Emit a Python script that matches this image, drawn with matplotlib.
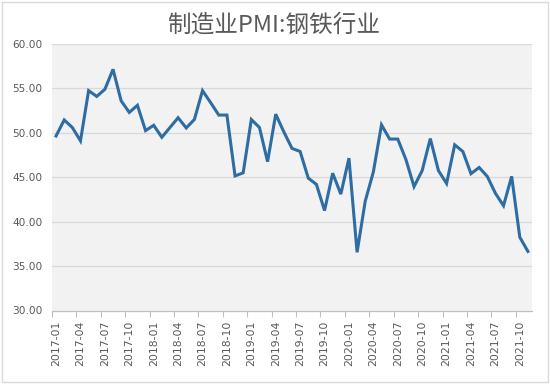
import matplotlib
matplotlib.use("Agg")
import matplotlib.pyplot as plt
from matplotlib.patches import Rectangle
from matplotlib.ticker import FixedLocator

title = "制造业PMI:钢铁行业"
months = [f"{y}-{m:02d}" for y in range(2017, 2022) for m in range(1, 13)][:59]
values = [49.65, 51.45, 50.6, 49.1, 54.75, 54.1, 54.9, 57.15, 53.6, 52.3,
          53.1, 50.25, 50.85, 49.5, 50.6, 51.7, 50.55, 51.5, 54.75, 53.4,
          52.0, 52.0, 45.15, 45.5, 51.5, 50.6, 46.75, 52.1, 50.1, 48.25,
          47.9, 44.9, 44.2, 41.25, 45.45, 43.1, 47.15, 36.55, 42.3, 45.6,
          50.9, 49.3, 49.3, 47.0, 43.95, 45.75, 49.35, 45.75, 44.3, 48.65,
          47.9, 45.4, 46.1, 45.1, 43.2, 41.8, 45.1, 38.25, 36.65]
yticks = [30, 35, 40, 45, 50, 55, 60]

plt.rcParams['font.family'] = ['DejaVu Sans']
text_color = "#595959"

fig = plt.figure(figsize=(5.5, 3.84), dpi=100)
fig.patch.set_facecolor("white")
fig.patches.append(Rectangle((2/550, 2/384), 546/550, 380/384, transform=fig.transFigure,
                             fill=False, edgecolor="#d9d9d9", linewidth=1.0))

ax = fig.add_axes([52/550, 1 - 310.5/384, 480/550, (310.5-44)/384])
ax.set_facecolor("#f2f2f2")

x = list(range(len(values)))
ax.plot(x, values, color="#2E6CA4", linewidth=2.2, solid_joinstyle="miter", zorder=3)

ax.set_xlim(-0.5, len(values) - 0.5)
ax.set_ylim(30, 60)
ax.set_yticks(yticks)
ax.set_yticklabels([f"{v:.2f}" for v in yticks])
for v in yticks[1:]:
    ax.axhline(v, color="#d9d9d9", linewidth=0.9, zorder=1)

label_pos = list(range(0, len(values), 3))
ax.set_xticks(label_pos)
ax.set_xticklabels([months[i] for i in label_pos], rotation=90)
ax.xaxis.set_minor_locator(FixedLocator([i - 0.5 for i in range(0, len(values) + 1, 3)]))
ax.tick_params(axis="x", which="major", length=0, pad=7.5, labelsize=7.8, labelcolor=text_color)
ax.tick_params(axis="x", which="minor", length=4, width=0.8, color="#bfbfbf", direction="out")
ax.tick_params(axis="y", length=0, pad=7, labelsize=7.6, labelcolor=text_color)

for s in ["left", "right", "top"]:
    ax.spines[s].set_visible(False)
ax.spines["bottom"].set_color("#bfbfbf")
ax.spines["bottom"].set_linewidth(0.9)

fig.text(274/550, 1 - 25/384, title, ha="center", va="center", fontsize=17,
         color=text_color, family=["Noto Sans CJK SC", "DejaVu Sans"])

fig.savefig("out.png", dpi=100, facecolor="white")
